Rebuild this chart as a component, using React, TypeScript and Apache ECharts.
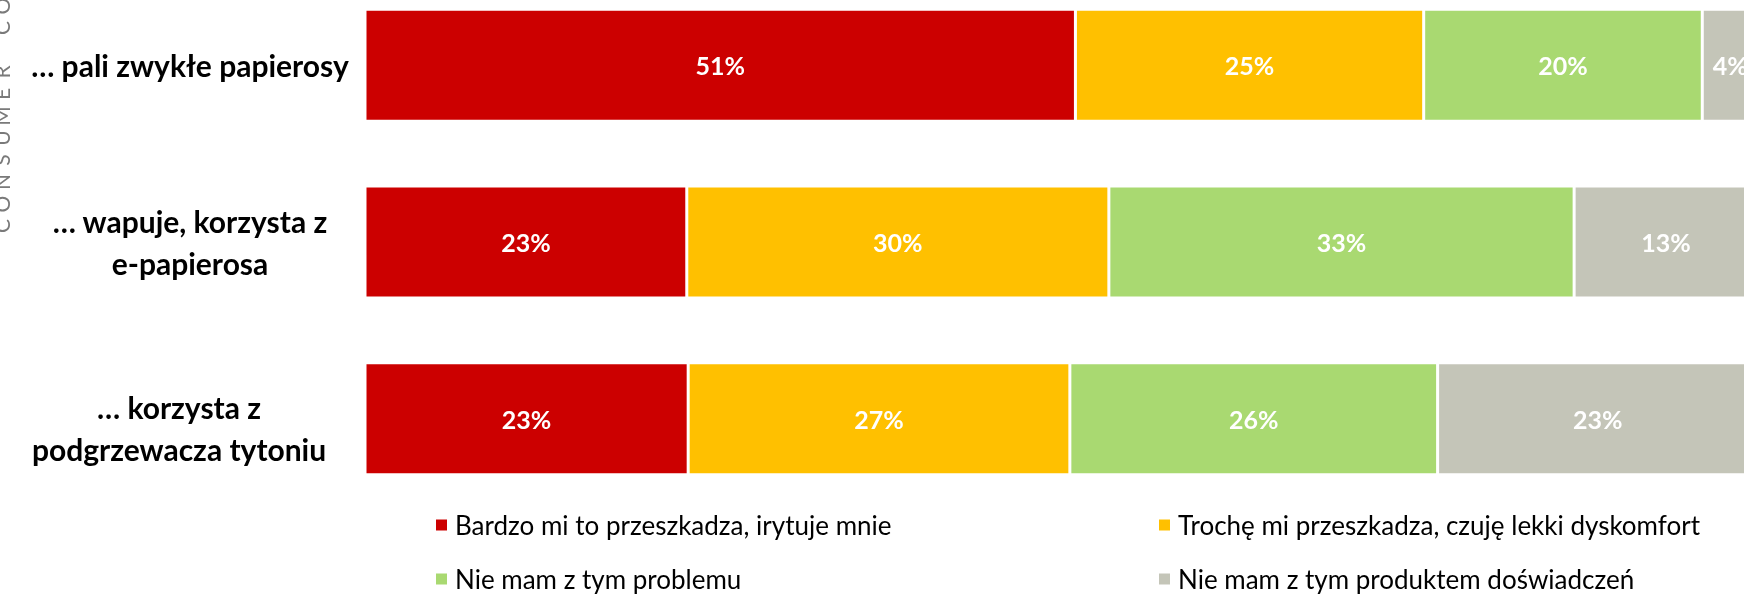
import React, { useEffect, useRef } from "react";
import * as echarts from "echarts";

const categories = [
  "… pali zwykłe papierosy",
  "… wapuje, korzysta z\ne-papierosa",
  "… korzysta z\npodgrzewacza tytoniu",
];
const seriesNames = [
  "Bardzo mi to przeszkadza, irytuje mnie",
  "Trochę mi przeszkadza, czuję lekki dyskomfort",
  "Nie mam z tym problemu",
  "Nie mam z tym produktem doświadczeń",
];
const bardzo = [51.0, 23.1, 23.2];
const troche = [25.0, 30.3, 27.4];
const nieProblem = [20.0, 33.4, 26.4];
const brakDoswiadczen = [4.0, 13.2, 23.0];
const colors = ["#CC0000", "#FFC000", "#A9D971", "#C4C5B8"];
const sideText = "CONSUMER CO";

const FONT = "Lato";

export default function App() {
  const ref = useRef<HTMLDivElement>(null);
  useEffect(() => {
    if (!ref.current) return;
    const chart = echarts.init(ref.current, undefined, { renderer: "svg" });
    const values = [bardzo, troche, nieProblem, brakDoswiadczen];
    const legendPos = [
      { left: 434, top: 512 },
      { left: 1157, top: 512 },
      { left: 434, top: 566 },
      { left: 1157, top: 566 },
    ];
    const catStyle = {
      fontFamily: FONT,
      fontWeight: "bold",
      fontSize: 30,
      lineHeight: 42,
      color: "#000",
      align: "center",
    };
    const sideChars = sideText.split("").map((ch, i) => ({
      type: "text",
      x: 1,
      y: 226 - 22 * i,
      rotation: Math.PI / 2,
      style: {
        text: ch,
        fill: "#7a7a7a",
        font: "normal 21px Lato",
        textAlign: "center",
        textVerticalAlign: "middle",
      },
    }));
    chart.setOption({
      animation: false,
      textStyle: { fontFamily: FONT },
      grid: {
        left: 365,
        right: -14,
        top: -23,
        height: 530,
        containLabel: false,
        outerBoundsMode: "none",
      },
      xAxis: {
        type: "value",
        min: 0,
        max: 100,
        show: false,
      },
      yAxis: {
        type: "category",
        inverse: true,
        data: categories,
        axisLine: { show: false },
        axisTick: { show: false },
        axisLabel: {
          align: "right",
          margin: 5,
          formatter: (v: string, idx: number) => {
            const lines = v.split("\n");
            if (idx === 2) {
              return "{e|}\n" + lines.map((l) => "{c3|" + l + "}").join("\n");
            }
            return lines.map((l) => "{c|" + l + "}").join("\n");
          },
          rich: {
            c: { ...catStyle, width: 340 },
            c3: { ...catStyle, width: 362 },
            e: { lineHeight: 19, fontSize: 10 },
          },
        },
      },
      legend: seriesNames.map((n, i) => ({
        data: [n],
        left: legendPos[i].left,
        top: legendPos[i].top,
        icon: "rect",
        itemWidth: 13,
        itemHeight: 13,
        itemGap: 8,
        padding: 0,
        selectedMode: false,
        textStyle: { fontFamily: FONT, fontSize: 26, color: "#000", padding: [0, 0, 0, 2] },
      })),
      series: seriesNames.map((n, i) => ({
        name: n,
        type: "bar",
        stack: "total",
        data: values[i],
        barWidth: 112,
        itemStyle: { color: colors[i], borderColor: "#fff", borderWidth: 1.5 },
        label: {
          show: true,
          position: "inside",
          formatter: (p: any) => Math.round(p.value) + "%",
          color: "#fff",
          fontFamily: FONT,
          fontWeight: "bold",
          fontSize: 25,
        },
      })),
      graphic: sideChars,
    });
    return () => chart.dispose();
  }, []);
  return (
    <div
      ref={ref}
      style={{ position: "fixed", left: 0, top: 0, width: 1744, height: 596 }}
    />
  );
}
